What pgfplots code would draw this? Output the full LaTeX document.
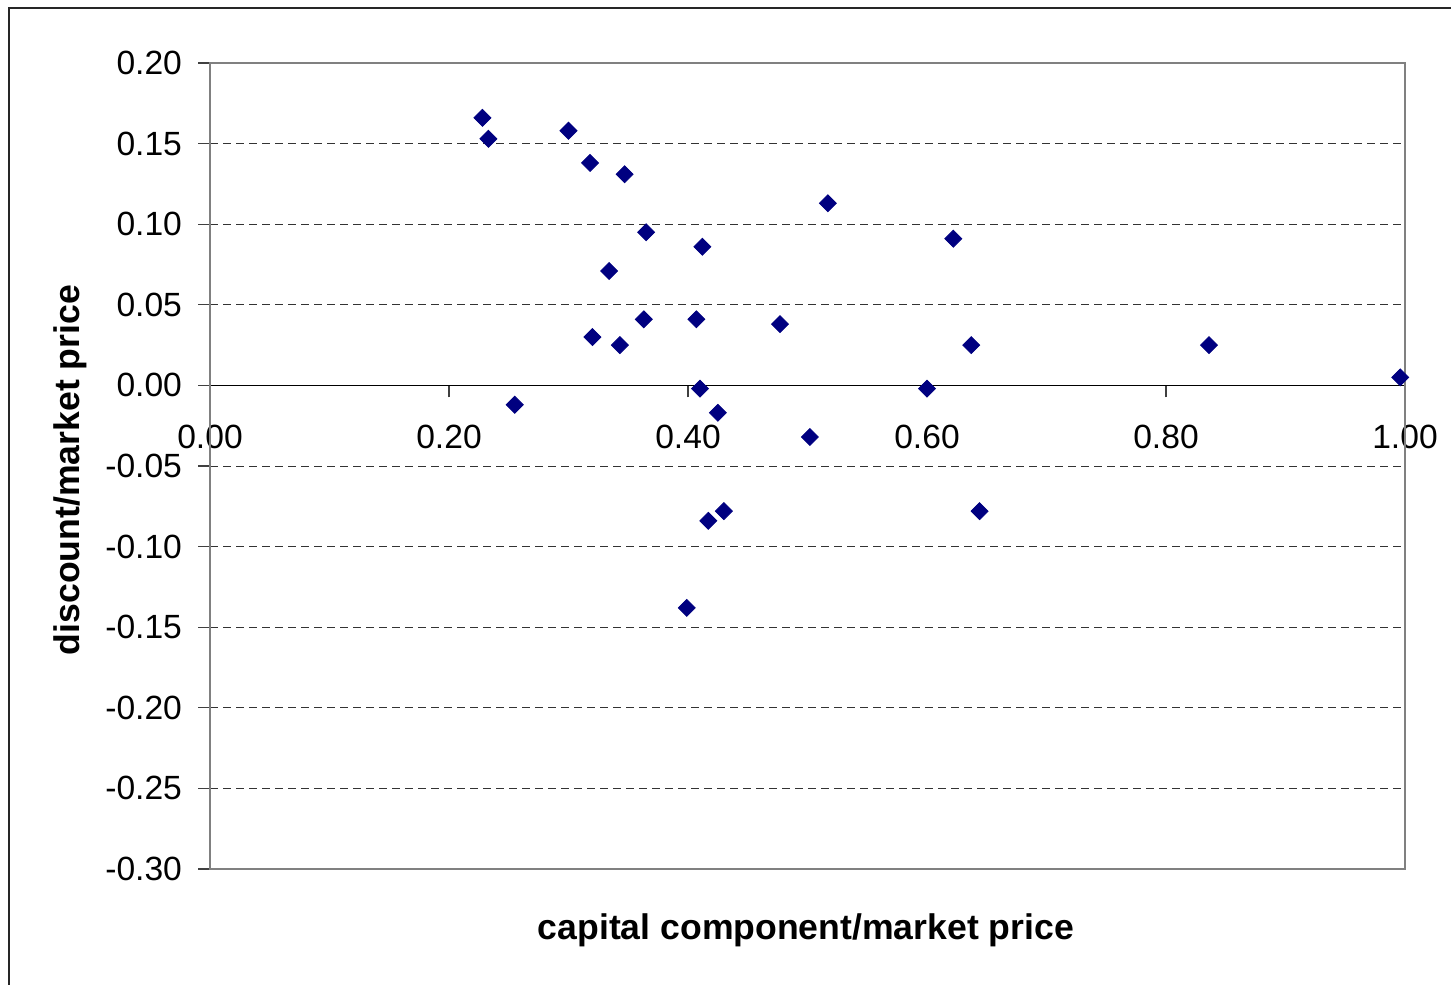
\documentclass[border=0pt]{standalone}
\usepackage{pgfplots}
\pgfplotsset{compat=1.18}
\usepackage{fontspec}
\setmainfont{Liberation Sans}
\definecolor{navy}{RGB}{0,0,128}
\definecolor{framegray}{RGB}{128,128,128}
\begin{document}
\begin{tikzpicture}
\useasboundingbox (0pt,0pt) rectangle (725.5pt,-492.5pt);
\draw[black!85, line width=0.8pt] (4.5pt,-492.5pt) -- (4.5pt,-4pt) -- (725.5pt,-4pt);
\begin{axis}[
  at={(105pt,-31.5pt)}, anchor=north west,
  scale only axis, width=597.5pt, height=403pt,
  xmin=0, xmax=1, ymin=-0.3, ymax=0.2,
  axis x line=middle, axis y line=left,
  hide obscured x ticks=false, hide obscured y ticks=false,
  axis line style={-},
  x axis line style={-, black, line width=0.6pt},
  y axis line style={-, framegray!70!black, line width=1pt},
  tick align=outside,
  major tick length=6pt,
  tick style={black!75, line width=0.6pt},
  xtick={0,0.2,0.4,0.6,0.8,1},
  xticklabels={0.00,0.20,0.40,0.60,0.80,1.00},
  ytick={-0.3,-0.25,-0.2,-0.15,-0.1,-0.05,0,0.05,0.1,0.15,0.2},
  yticklabels={-0.30,-0.25,-0.20,-0.15,-0.10,-0.05,0.00,0.05,0.10,0.15,0.20},
  ticklabel style={font=\fontsize{16.8}{16.8}\selectfont},
  xticklabel style={yshift=-10.5pt},
  yticklabel style={xshift=-4.5pt},
  ymajorgrids,
  major grid style={black!80, line width=0.5pt, dash pattern=on 4pt off 2.5pt},
  xlabel={capital component/market price},
  ylabel={discount/market price},
  every axis x label/.style={at={(axis description cs:0.4987,-0.0755)}, anchor=center, font=\bfseries\fontsize{17.8}{17.8}\selectfont},
  every axis y label/.style={at={(axis description cs:-0.1165,0.495)}, anchor=center, rotate=90, font=\bfseries\fontsize{17.8}{17.8}\selectfont},
  clip=false,
]
\draw[framegray, line width=1pt] (rel axis cs:0,0) rectangle (rel axis cs:1,1);
\addplot[only marks, mark=square*, mark size=3pt, mark options={rotate=45, fill=navy, draw=navy}] coordinates {
(0.228,0.166) (0.233,0.153) (0.300,0.158) (0.318,0.138) (0.347,0.131)
(0.517,0.113) (0.365,0.095) (0.412,0.086) (0.622,0.091) (0.334,0.071)
(0.363,0.041) (0.407,0.041) (0.477,0.038) (0.320,0.030) (0.343,0.025)
(0.637,0.025) (0.836,0.025) (0.996,0.005) (0.410,-0.002) (0.600,-0.002)
(0.255,-0.012) (0.425,-0.017) (0.502,-0.032) (0.430,-0.078) (0.417,-0.084)
(0.644,-0.078) (0.399,-0.138)
};
\end{axis}
\end{tikzpicture}
\end{document}
